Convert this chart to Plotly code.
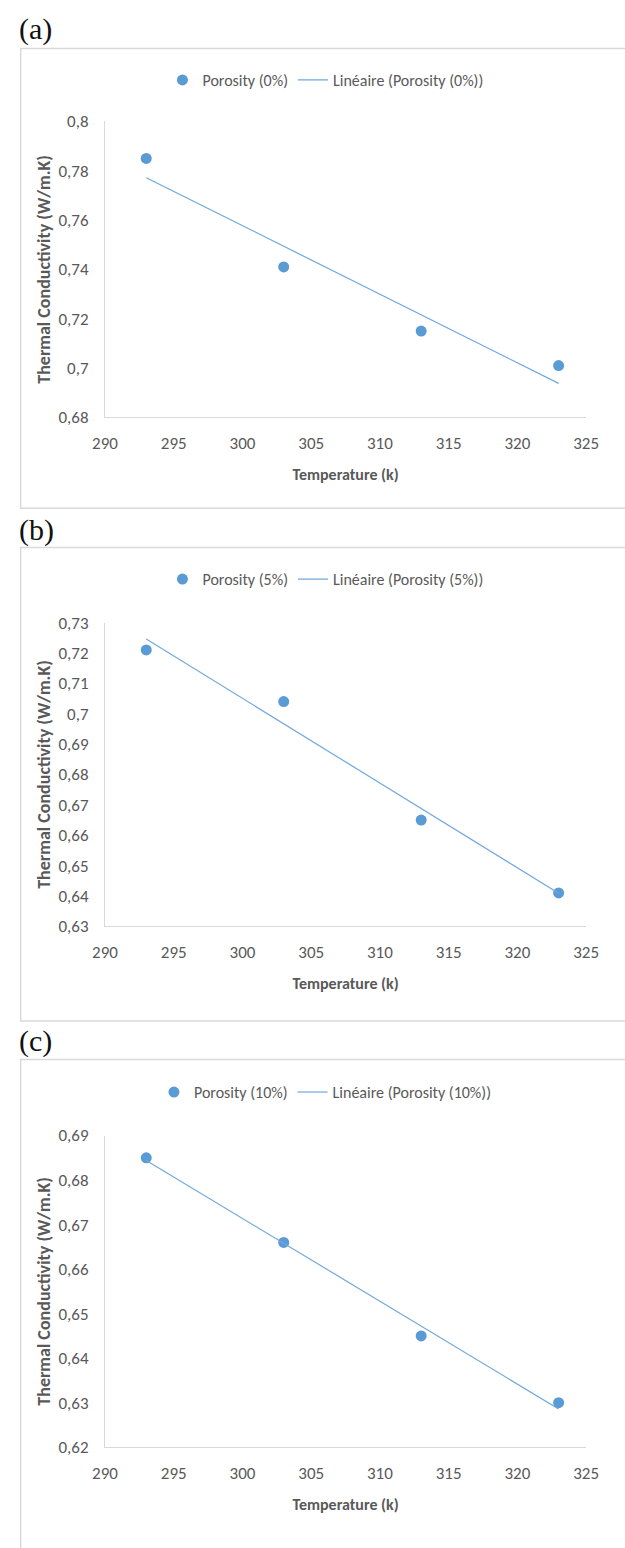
import numpy as np
import plotly.graph_objects as go

# ---- data -------------------------------------------------------------
temperature = [293, 303, 313, 323]

k_porosity_0 = [0.785, 0.741, 0.715, 0.701]
k_porosity_5 = [0.721, 0.704, 0.665, 0.641]
k_porosity_10 = [0.685, 0.666, 0.645, 0.630]

series_names = ["Porosity (0%)", "Porosity (5%)", "Porosity (10%)"]
trend_names = ["Linéaire (Porosity (0%))", "Linéaire (Porosity (5%))",
               "Linéaire (Porosity (10%))"]
panel_tags = ["(a)", "(b)", "(c)"]

x_tick_vals = [290, 295, 300, 305, 310, 315, 320, 325]

y_ticks_0 = [0.68, 0.70, 0.72, 0.74, 0.76, 0.78, 0.80]
y_text_0 = ["0,68", "0,7", "0,72", "0,74", "0,76", "0,78", "0,8"]
y_ticks_5 = [0.63, 0.64, 0.65, 0.66, 0.67, 0.68, 0.69, 0.70, 0.71, 0.72, 0.73]
y_text_5 = ["0,63", "0,64", "0,65", "0,66", "0,67", "0,68", "0,69", "0,7",
            "0,71", "0,72", "0,73"]
y_ticks_10 = [0.62, 0.63, 0.64, 0.65, 0.66, 0.67, 0.68, 0.69]
y_text_10 = ["0,62", "0,63", "0,64", "0,65", "0,66", "0,67", "0,68", "0,69"]

# ---- page geometry (pixels) ------------------------------------------
W, H = 625, 1548
BLUE = "#5B9BD5"
TREND = "#6FA8DC"
GREY_TXT = "#595959"
GREY_LINE = "#D9D9D9"
SANS = "Carlito, 'Liberation Sans Narrow', Lato, sans-serif"
SERIF = "'Liberation Serif', 'DejaVu Serif', serif"

panels = [
    dict(y=k_porosity_0, ticks=y_ticks_0, text=y_text_0,
         top=113, bottom=413, box=(39, 505), legend_y=71, tag_y=19),
    dict(y=k_porosity_5, ticks=y_ticks_5, text=y_text_5,
         top=621, bottom=929, box=(545, 1025), legend_y=577, tag_y=527),
    dict(y=k_porosity_10, ticks=y_ticks_10, text=y_text_10,
         top=1141, bottom=1457, box=(1064, 1560), legend_y=1097, tag_y=1045),
]

X_LEFT, X_RIGHT = 96, 598


def px_x(v):
    return v / W


def px_y(v):
    return 1 - v / H


fig = go.Figure()
layout = dict(
    width=W, height=H,
    margin=dict(l=0, r=0, t=0, b=0),
    paper_bgcolor="white", plot_bgcolor="white",
    separators=", ",
    font=dict(family=SANS, color=GREY_TXT),
    shapes=[], annotations=[],
)

for i, p in enumerate(panels):
    n = "" if i == 0 else str(i + 1)
    xa, ya = "x" + n, "y" + n
    leg = "legend" + n

    # Excel-style linear trendline from a least-squares fit
    slope, intercept = np.polyfit(temperature, p["y"], 1)
    x_fit = [temperature[0], temperature[-1]]
    y_fit = [slope * t + intercept for t in x_fit]

    fig.add_trace(go.Scatter(
        x=temperature, y=p["y"], mode="markers", name=series_names[i],
        marker=dict(color=BLUE, size=11),
        xaxis=xa, yaxis=ya, legend=leg,
    ))
    fig.add_trace(go.Scatter(
        x=x_fit, y=y_fit, mode="lines", name=trend_names[i],
        line=dict(color=TREND, width=1.2),
        xaxis=xa, yaxis=ya, legend=leg,
    ))

    layout["xaxis" + n] = dict(
        domain=[px_x(X_LEFT), px_x(X_RIGHT)],
        anchor=ya, range=[290, 325],
        tickvals=x_tick_vals, ticks="",
        showgrid=False, zeroline=False,
        showline=True, linecolor=GREY_LINE, linewidth=1,
        tickfont=dict(size=17, color=GREY_TXT),
        ticklabelstandoff=10,
        title=dict(text="Temperature (k)", standoff=16,
                   font=dict(size=16, color=GREY_TXT, weight="bold")),
    )
    layout["yaxis" + n] = dict(
        domain=[px_y(p["bottom"]), px_y(p["top"])],
        anchor=xa, range=[p["ticks"][0], p["ticks"][-1]],
        tickvals=p["ticks"], ticktext=p["text"], ticks="",
        showgrid=False, zeroline=False,
        showline=True, linecolor=GREY_LINE, linewidth=1,
        tickfont=dict(size=17, color=GREY_TXT),
        ticklabelstandoff=12,
        title=dict(text="Thermal Conductivity (W/m.K)", standoff=3,
                   font=dict(size=18, color=GREY_TXT, weight="bold")),
    )
    layout[leg] = dict(
        orientation="h", x=px_x(326), xanchor="center",
        y=px_y(p["legend_y"]), yanchor="middle",
        font=dict(size=16, color=GREY_TXT, family=SANS),
        bgcolor="rgba(0,0,0,0)", itemwidth=30,
    )

    # chart-area frame
    y0, y1 = p["box"]
    layout["shapes"].append(dict(
        type="rect", xref="paper", yref="paper",
        x0=px_x(8), x1=px_x(640), y0=px_y(y1), y1=px_y(y0),
        line=dict(color=GREY_LINE, width=1.5), layer="below",
    ))
    # panel tag
    layout["annotations"].append(dict(
        text=panel_tags[i], xref="paper", yref="paper",
        x=px_x(4), y=px_y(p["tag_y"]), xanchor="left", yanchor="middle",
        showarrow=False, font=dict(family=SERIF, size=30, color="#111111"),
    ))

fig.update_layout(**layout)
fig.write_html("out.html")
